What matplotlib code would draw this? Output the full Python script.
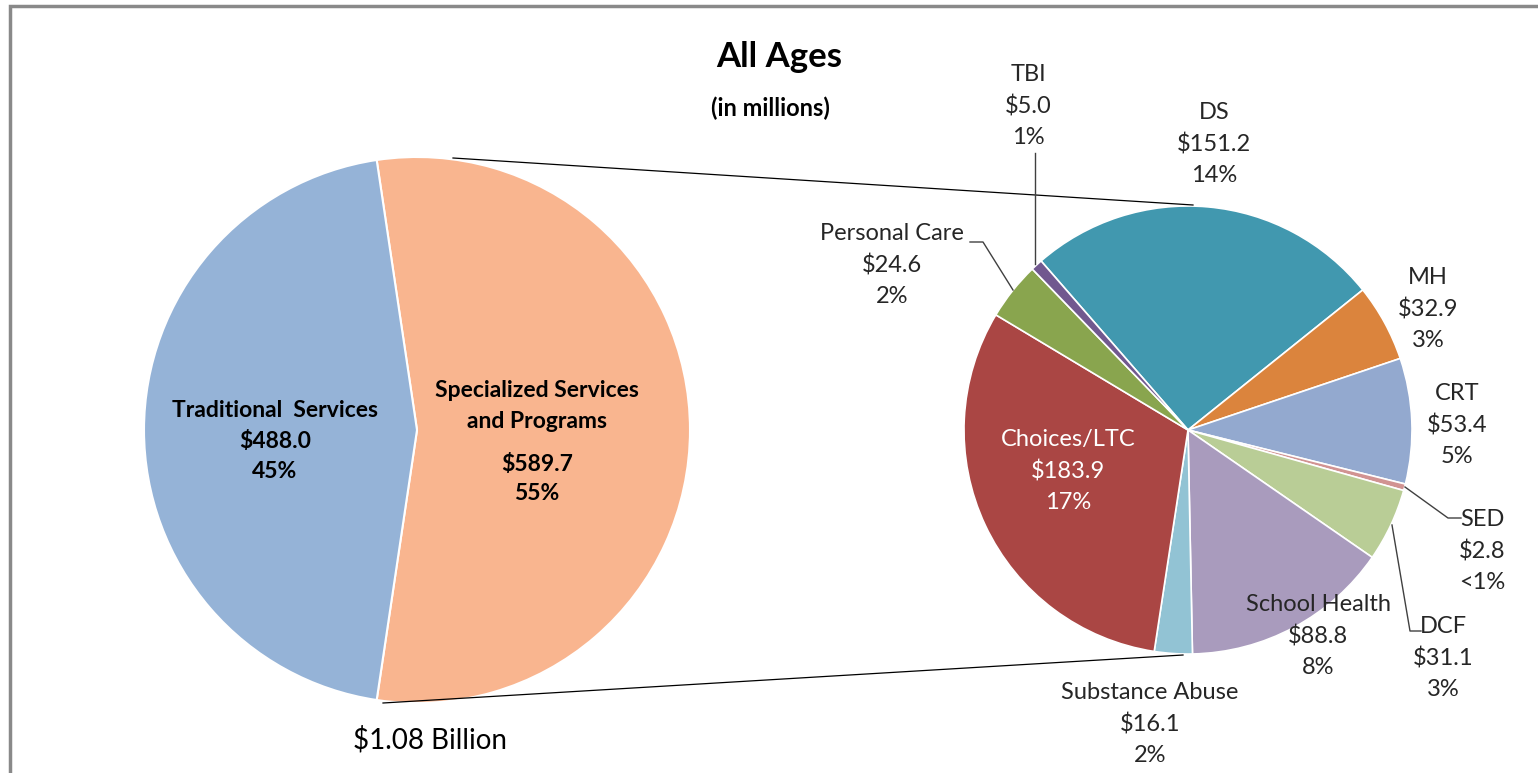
import matplotlib.pyplot as plt
from matplotlib.patches import Rectangle

plt.rcParams['font.family'] = ['Lato', 'DejaVu Sans']

W, H = 1538, 773

# main pie (in millions)
main_names = ['Specialized Services\nand Programs', 'Traditional  Services']
main_values = [589.7, 488.0]
main_pcts = ['55%', '45%']
main_colors = ['#F9B58F', '#95B3D7']

# breakdown of specialized services
sub_names = ['DS', 'MH', 'CRT', 'SED', 'DCF', 'School Health', 'Substance Abuse',
             'Choices/LTC', 'Personal Care', 'TBI']
sub_values = [151.2, 32.9, 53.4, 2.8, 31.1, 88.8, 16.1, 183.9, 24.6, 5.0]
sub_pcts = ['14%', '3%', '5%', '<1%', '3%', '8%', '2%', '17%', '2%', '1%']
sub_colors = ['#4198AF', '#DB843D', '#93A9CF', '#D19392', '#B9CD96', '#A99BBD',
              '#92C3D4', '#AA4644', '#89A54E', '#71588F']

total_label = '$1.08 Billion'


def Y(py):
    # pixel row (from top) -> data y
    return H - py


fig = plt.figure(figsize=(W / 100, H / 100), dpi=100)
ax = fig.add_axes([0, 0, 1, 1])

frac_spec = main_values[0] / sum(main_values)
ax.pie(main_values, colors=main_colors, startangle=-360 * frac_spec / 2,
       center=(417, Y(430)), radius=273,
       wedgeprops=dict(edgecolor='white', linewidth=1.5))

ax.pie(sub_values, colors=sub_colors, startangle=131, counterclock=False,
       center=(1188, Y(430)), radius=224,
       wedgeprops=dict(edgecolor='white', linewidth=1.2))

ax.set_xlim(0, W)
ax.set_ylim(0, H)
ax.set_aspect('equal')
ax.axis('off')

# connector lines between the pies
ax.plot([453, 1193], [Y(158), Y(205)], color='#000000', lw=0.9)
ax.plot([383, 1183], [Y(703), Y(655)], color='#000000', lw=0.9)

# chart frame
ax.add_patch(Rectangle((10, Y(780)), 1545, 774, fill=False,
                       edgecolor='#898989', lw=2.5, clip_on=False))

# titles
ax.text(779, Y(57), 'All Ages', ha='center', va='center', fontsize=25,
        fontweight='bold', color='black')
ax.text(770, Y(108), '(in millions)', ha='center', va='center', fontsize=17,
        fontweight='bold', color='black')

# main pie labels
ax.text(275, Y(441), f'{main_names[1]}\n${main_values[1]:.1f}\n{main_pcts[1]}',
        ha='center', va='center', fontsize=16.5, fontweight='bold',
        linespacing=1.58, color='black')
ax.text(537, Y(406), main_names[0], ha='center', va='center', fontsize=16.5,
        fontweight='bold', linespacing=1.58, color='black')
ax.text(537, Y(479), f'${main_values[0]:.1f}\n{main_pcts[0]}', ha='center',
        va='center', fontsize=16.5, fontweight='bold', linespacing=1.42,
        color='black')
ax.text(430, Y(740), total_label, ha='center', va='center', fontsize=20,
        color='black')

# sub pie labels: centre x, middle line y (pixels)
label_pos = {
    'DS': (1214, 144), 'MH': (1428, 309), 'CRT': (1457, 425),
    'SED': (1482, 551), 'DCF': (1443, 658), 'School Health': (1318, 636),
    'Substance Abuse': (1150, 724), 'Choices/LTC': (1068, 471),
    'Personal Care': (892, 265), 'TBI': (1028, 106),
}
for name, val, pct in zip(sub_names, sub_values, sub_pcts):
    x, y = label_pos[name]
    col = 'white' if name == 'Choices/LTC' else '#262626'
    ax.text(x, Y(y), f'{name}\n${val:.1f}\n{pct}', ha='center', va='center',
            fontsize=17, linespacing=1.56, color=col)

# leader lines
leaders = [
    [(1035, 153), (1035, 264)],
    [(970, 242), (983, 242), (1013, 290)],
    [(1405, 487), (1448, 518), (1461, 518)],
    [(1392, 525), (1410, 631), (1421, 631)],
]
for pts in leaders:
    ax.plot([p[0] for p in pts], [Y(p[1]) for p in pts], color='#404040', lw=1)

fig.savefig('out.png', dpi=100)
